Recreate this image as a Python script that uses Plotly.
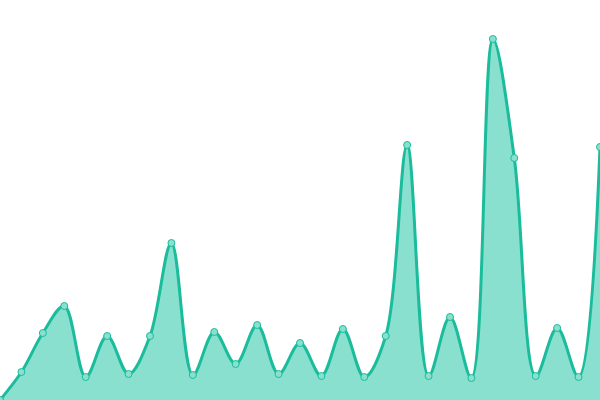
import plotly.graph_objects as go

x_index = list(range(29))
values = [0, 28, 67, 94, 23, 64, 26, 64, 157, 25, 68, 36, 75, 26, 57, 24, 71, 23, 64,
          255, 24, 83, 22, 361, 242, 24, 72, 23, 253]

fig = go.Figure(go.Scatter(
    x=x_index, y=values, mode="lines+markers",
    line=dict(color="#1abc9c", width=3, shape="spline", smoothing=1.0),
    marker=dict(size=7, color="#8ae0cf", line=dict(color="#1abc9c", width=1)),
    fill="tozeroy", fillcolor="#8ae0cf",
))
fig.update_layout(
    width=600, height=400, margin=dict(l=0, r=0, t=0, b=0),
    paper_bgcolor="white", plot_bgcolor="white", showlegend=False,
    xaxis=dict(visible=False, range=[0, 28]),
    yaxis=dict(visible=False, range=[0, 400]),
)
fig.write_html("out.html", config={"displayModeBar": False},
               post_script="document.body.style.margin='0';document.body.style.overflow='hidden';")
